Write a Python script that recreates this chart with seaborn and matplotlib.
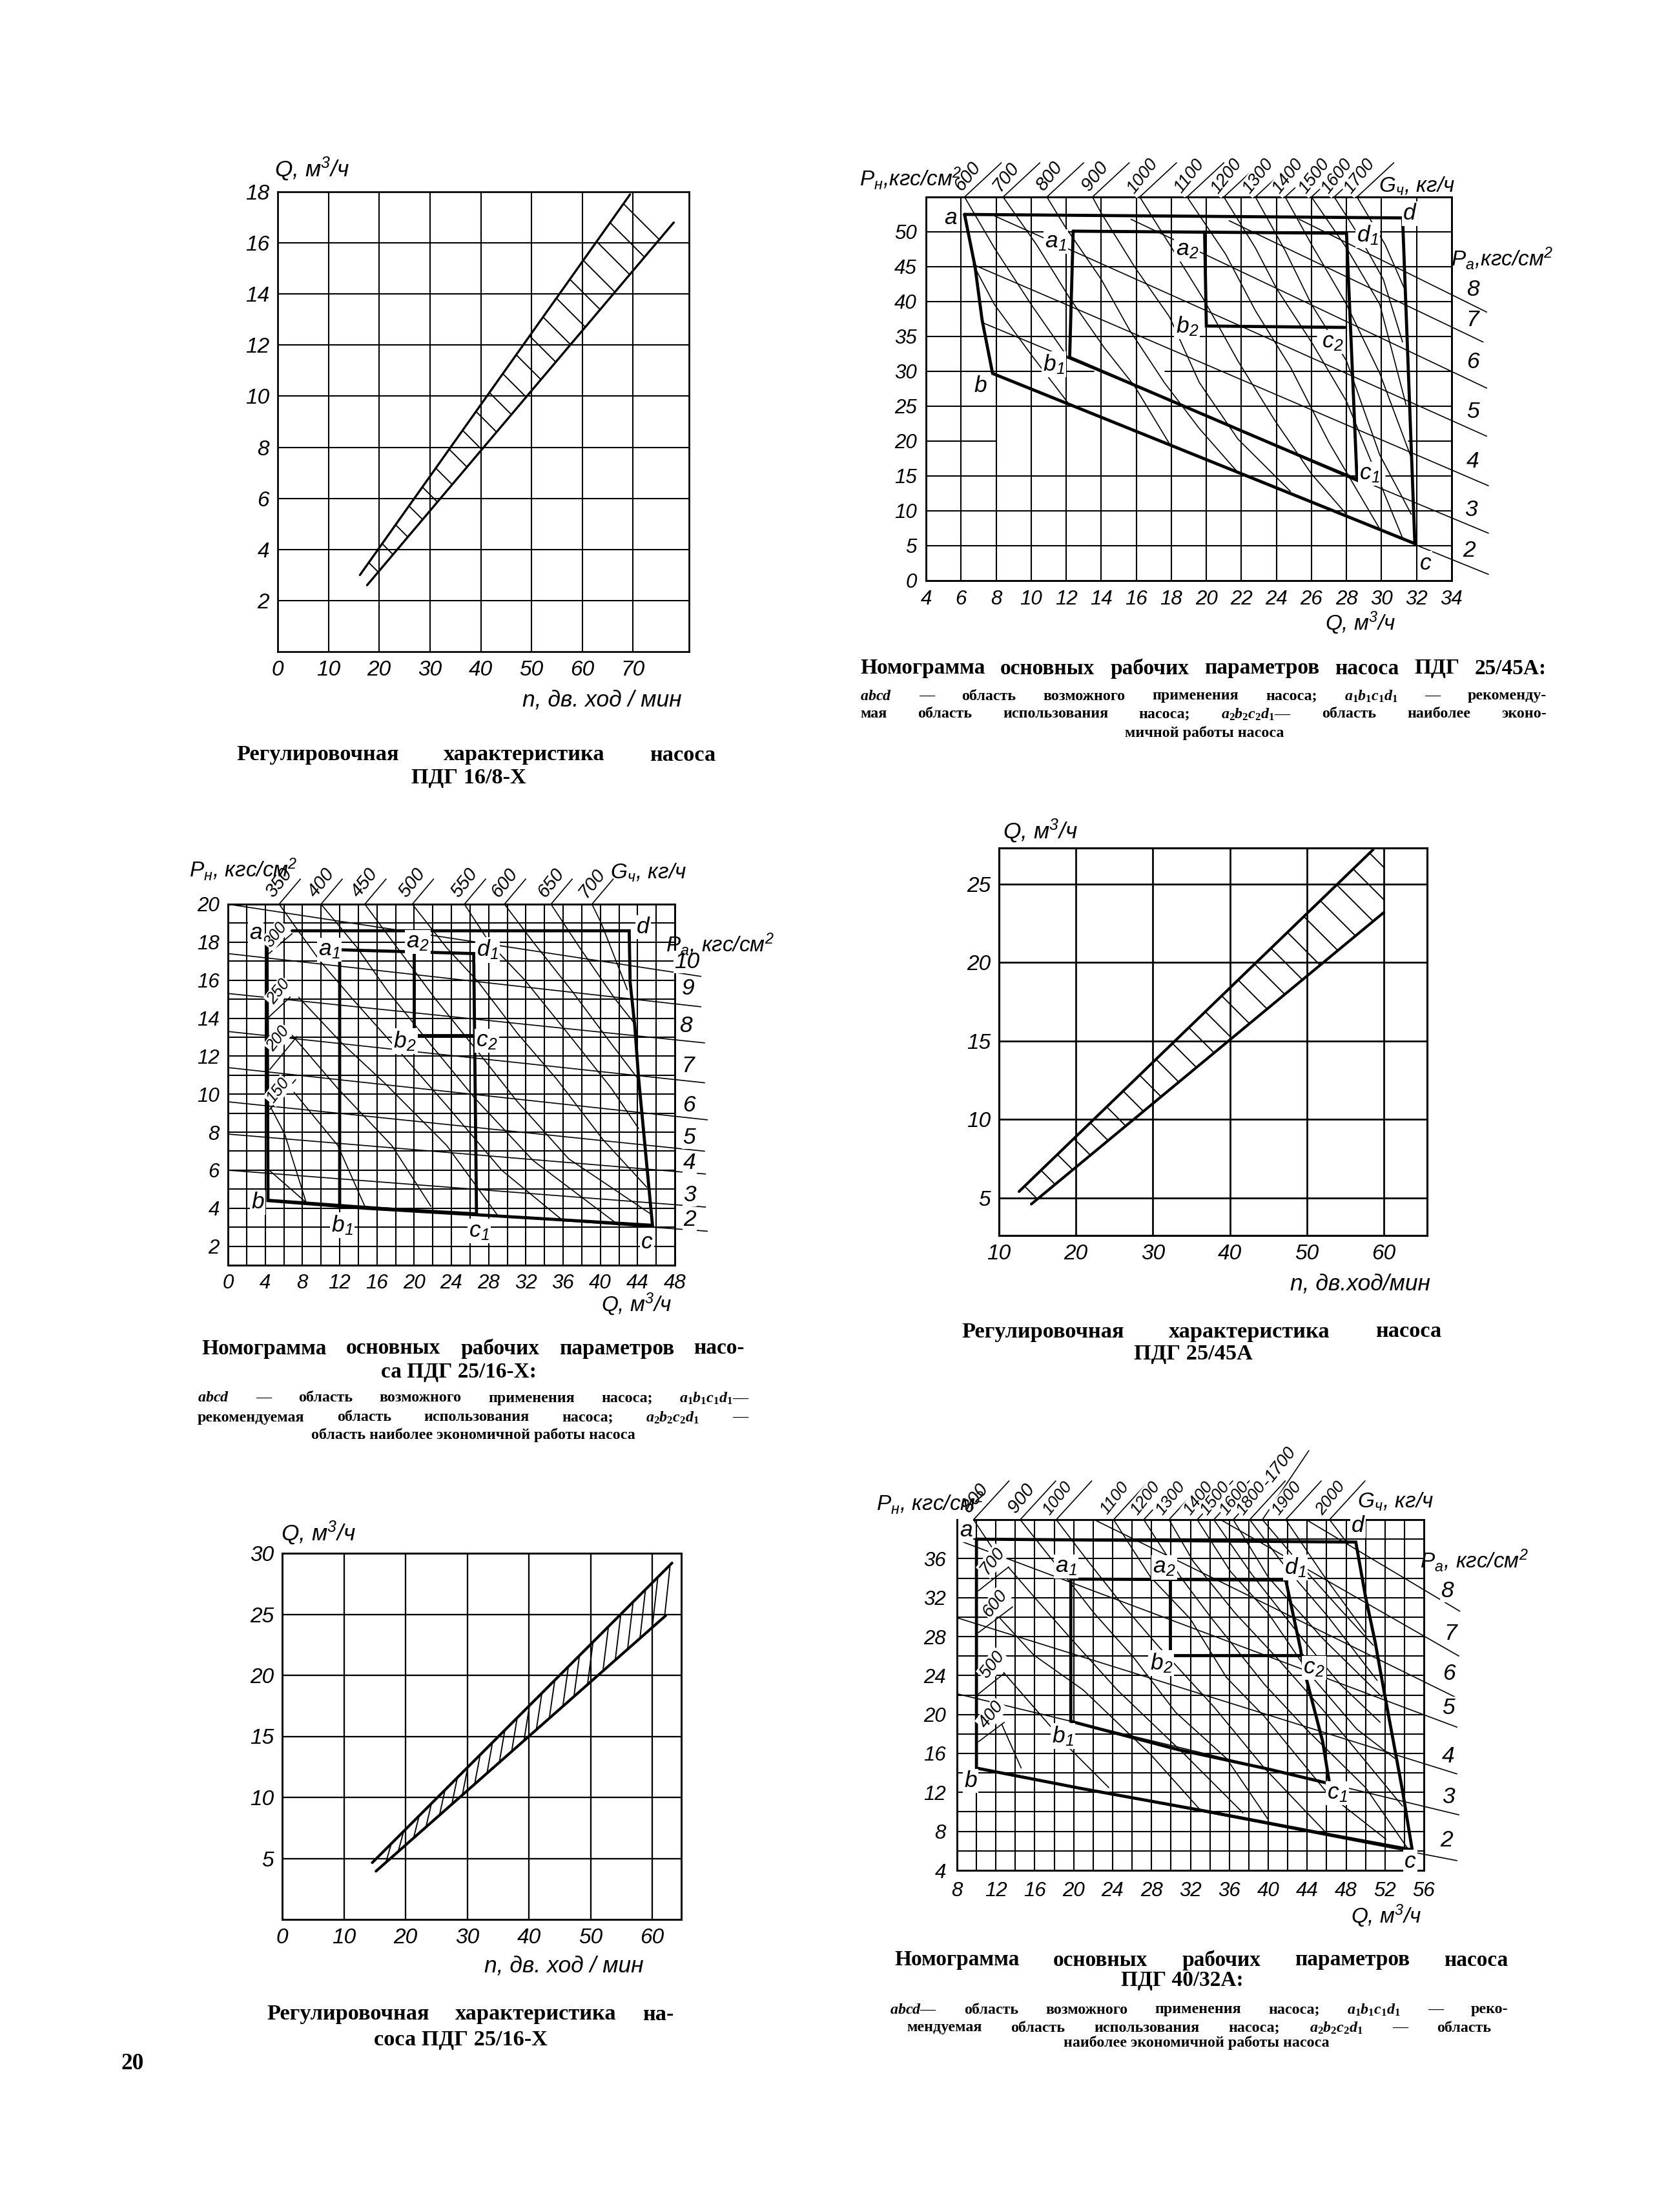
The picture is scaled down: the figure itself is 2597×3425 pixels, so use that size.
#!/usr/bin/env python
import numpy as np
import matplotlib
matplotlib.use('Agg')
import matplotlib.pyplot as plt
import seaborn as sns

sns.set_style('white', {'axes.edgecolor': 'black', 'text.color': 'black',
                        'xtick.color': 'black', 'ytick.color': 'black'})
plt.rcParams.update({'font.family': ['Liberation Sans Narrow', 'Liberation Sans', 'DejaVu Sans'],
                     'mathtext.fontset': 'custom',
                     'mathtext.it': 'Liberation Serif:italic:bold',
                     'mathtext.rm': 'Liberation Serif:bold',
                     'mathtext.default': 'regular',
                     'hatch.linewidth': 0.9})

W, H, DPI = 2597, 3425, 150
NARROW = ['Liberation Sans Narrow', 'Liberation Sans', 'DejaVu Sans']
SERIF = ['Liberation Serif', 'DejaVu Serif']

## ---- regulating curves: band edges as (n, Q)
tl_upper = [(16.2, 3.0), (69.4, 17.9)]
tl_lower = [(17.6, 2.6), (78.0, 16.8)]
mr_upper = [(12.6, 5.4), (58.6, 27.2)]
mr_lower = [(14.2, 4.6), (60.0, 23.2)]
bl_upper = [(14.6, 4.65), (63.2, 29.2)]
bl_lower = [(15.2, 3.95), (62.2, 24.9)]
bl_hatch_n = [16.8, 18.8, 21.3, 23.3, 25.5, 27.5, 29.2, 31.2, 33.2, 35.2, 37.2, 39.2,
              41.2, 43.3, 45.5, 47.3, 49.5, 52.0, 54.0, 56.0, 58.0, 60.0, 62.0]

## ---- nomogram PDG 25/45A
tr_pa = {8: [(25.3, 51.8), (36.0, 38.5)], 7: [(21.3, 51.6), (35.8, 34.2)],
         6: [(15.7, 51.8), (36.0, 27.6)], 5: [(7.9, 52.3), (36.0, 20.7)],
         4: [(6.7, 45.3), (36.1, 13.6)], 3: [(7.3, 36.9), (36.1, 6.8)],
         2: [(7.8, 29.7), (36.1, 0.9)]}
tr_pa_text = {8: (35.2, 41.7), 7: (35.2, 37.4), 6: (35.2, 31.3), 5: (35.2, 24.2),
              4: (35.2, 17.1), 3: (35.1, 10.1), 2: (35.0, 4.3)}
tr_g = [[(6.2, 55), (7.9, 47.7), (10, 39.6), (12.1, 32)],
        [(6.7, 45.3), (7.9, 39.6), (10, 32.4), (12.1, 25.5)],
        [(8.4, 55), (10.3, 48.2), (12.2, 40.5), (14.2, 33.3), (15.9, 27.9), (17.9, 19.6)],
        [(10.9, 55), (11.9, 50.9), (14, 43.2), (15.6, 36), (17.6, 28.4), (19.6, 21.8), (21.7, 15.8)],
        [(13.5, 55), (14, 52.7), (15.9, 45), (17.9, 37.8), (19.6, 28.4), (21.8, 20.3), (24.8, 12.8)],
        [(16.2, 55), (17.8, 48.6), (19.9, 40.1), (21.8, 31.5), (23.9, 23), (26, 15.3), (28, 9.5)],
        [(18.9, 55), (21.1, 46.8), (22.8, 38.7), (24.8, 30.6), (27, 19.8), (29.9, 7.4)],
        [(21, 55), (22.8, 47.7), (24, 41.9), (26, 34.2), (28, 25.7), (31.2, 6.1)],
        [(22.8, 55), (24.5, 47.3), (26, 39.6), (28, 31.5), (29.9, 18), (31.7, 9.5)],
        [(24.5, 55), (26, 48.2), (28, 39.6), (29.9, 29.7), (31.7, 17.6)],
        [(26, 55), (28, 47.7), (29.9, 39.6), (31.4, 25.2)],
        [(27.3, 55), (28.7, 49.5), (30.1, 43.2), (31.2, 34.2)],
        [(28.6, 55), (30.2, 48.2), (31.3, 41.9)]]
tr_g_top = [6.2, 8.4, 10.9, 13.5, 16.2, 18.9, 21, 22.8, 24.5, 26, 27.3, 28.6]
tr_g_names = ['600', '700', '800', '900', '1000', '1100', '1200', '1300', '1400', '1500', '1600', '1700']
tr_regions = [[(6.2, 52.5), (6.8, 45), (7.2, 37.4), (7.8, 29.7), (31.9, 5.3), (31.2, 52.0), (6.2, 52.5)],
              [(12.4, 50.1), (12.2, 32.0), (28.6, 14.4), (28.0, 49.8), (12.4, 50.1)],
              [(19.9, 50), (20.0, 36.5), (27.9, 36.3)]]
tr_points = {'a': (5.4, 52.0), 'b': (7.1, 27.9), 'c': (32.5, 2.5), 'd': (31.6, 52.6),
             'a$_1$': (11.4, 48.6), 'b$_1$': (11.3, 31.0), 'c$_1$': (29.3, 15.3), 'd$_1$': (29.2, 49.5),
             'a$_2$': (18.9, 47.5), 'b$_2$': (18.9, 36.5), 'c$_2$': (27.2, 34.2)}
tr_grid_gaps = {20: [(8, 31.5)], 30: [(13.6, 17.6)], 35: [(26.3, 28.2)], 15: [(28.7, 30.2)]}

## ---- nomogram PDG 25/16-X
ml_pa = {10: [(0, 20), (50.8, 16.2)], 9: [(0, 17.4), (50.8, 14.6)], 8: [(0, 15.3), (51.2, 12.7)],
         7: [(0, 13.3), (51.2, 10.6)], 6: [(0, 11.4), (51.5, 8.65)], 5: [(0, 9.6), (51.2, 7.0)],
         4: [(0, 7.9), (51.3, 5.8)], 3: [(0, 6.0), (51.3, 4.06)], 2: [(4.3, 4.47), (51.5, 2.79)]}
ml_pa_text = {10: (49.3, 16.95), 9: (49.4, 15.55), 8: (49.2, 13.6), 7: (49.4, 11.5), 6: (49.5, 9.4),
              5: (49.5, 7.7), 4: (49.6, 6.4), 3: (49.6, 4.7), 2: (49.6, 3.4)}
ml_g = [[(39.1, 20), (40.1, 19), (42.9, 15.5)],
        [(34.7, 20), (37.8, 17.7), (41.6, 15), (43.7, 13.7)],
        [(29.7, 20), (32.8, 18), (37, 15.4), (40.8, 12.9), (43.9, 10.9)],
        [(25.4, 20), (28.2, 17.9), (31.9, 16), (37, 12.9), (41.2, 10.3), (44.1, 8.2)],
        [(19.8, 20), (23.5, 17.7), (26.9, 15.9), (31.1, 13.2), (35.3, 10.8), (40.3, 7.6), (45, 5.1)],
        [(14.7, 20), (18.5, 17.5), (22.3, 15), (26.9, 12.2), (31.1, 9.6), (36.6, 6.6), (45.4, 3.7)],
        [(10, 20), (13.9, 17.7), (17.2, 15.4), (21.8, 12.6), (26.5, 9.8), (32.8, 6.5), (42, 3.1)],
        [(5.5, 20), (9.9, 17), (13.4, 15), (18.5, 12.2), (23.5, 9.4), (29.4, 6), (36.1, 3.3)],
        [(7.6, 15.1), (12.2, 12.7), (16.8, 10.6), (23.5, 7.3), (29, 3.6)],
        [(6.9, 13.1), (11.8, 10.3), (17.6, 7.3), (21.8, 4.1)],
        [(7.1, 10.1), (11.8, 7.3), (14.7, 4.1)],
        [(4.6, 9.3), (6.1, 7.9), (8.4, 4.3)],
        [(4.2, 6.1), (8.4, 4.3)]]
ml_g_top = [5.5, 10, 14.7, 19.8, 25.4, 29.7, 34.7, 39.1]
ml_g_names = ['350', '400', '450', '500', '550', '600', '650', '700']
ml_g_left = {'300': (4.4, 17.4), '250': (4.4, 14.06), '200': (4.5, 11.3), '150': (4.5, 9.2)}
ml_regions = [[(6.9, 18.6), (43.1, 18.6), (43.2, 15.9), (43.7, 13.6), (44.1, 10.9), (45.6, 3.1),
               (28.6, 3.6), (14.7, 4.0), (4.3, 4.4), (4.2, 18.2)],
              [(12, 17.6), (12, 4.1), (26.7, 3.7), (26.4, 17.4), (12, 17.6)],
              [(20, 17.4), (20, 13.1), (26.5, 13.1)]]
ml_points = {'a': (3, 18.5), 'b': (3.2, 4.3), 'c': (45, 2.2), 'd': (44.6, 18.8),
             'a$_1$': (10.9, 17.6), 'b$_1$': (12.3, 3.1), 'c$_1$': (27, 2.8), 'd$_1$': (27.9, 17.6),
             'a$_2$': (20.4, 18), 'b$_2$': (19, 12.8), 'c$_2$': (27.8, 12.8)}

## ---- nomogram PDG 40/32A
br_pa = {8: [(43.9, 40), (59.7, 30.6)], 7: [(35.1, 40), (59.6, 26)], 6: [(22.1, 40), (59.2, 21.8)],
         5: [(8.1, 37.9), (59.4, 18.7)], 4: [(8.1, 29.9), (59.4, 13.9)], 3: [(8.1, 22.1), (59.6, 9.7)],
         2: [(10, 14.5), (59.4, 5)]}
br_pa_text = {8: (58.4, 32.7), 7: (58.7, 28.3), 6: (58.6, 24.2), 5: (58.5, 20.7),
              4: (58.5, 15.7), 3: (58.5, 11.5), 2: (58.3, 7.1)}
br_g = [[(9.7, 40), (11.7, 37)],
        [(13.3, 35.1), (15.9, 32.1), (19.7, 27.8), (24.5, 22.5), (31.4, 15.9), (37.4, 9.9)],
        [(12.4, 29.9), (15.9, 26.1), (21, 22.5), (27.9, 15.9), (33.1, 10.1)],
        [(12.8, 24.3), (17.6, 18.8), (19.7, 16.4), (23.6, 12.5)],
        [(12.6, 19), (14.6, 14.5)],
        [(14.5, 40), (18.4, 35.1), (22.1, 30.4), (26.2, 25.8), (30.5, 20.2), (35.7, 15.5), (40, 9.2)],
        [(18.2, 40), (21.5, 35.7), (24.9, 31.4), (28.8, 26.9), (34.4, 20.8), (39.6, 14.5), (46.1, 7.7)],
        [(24.1, 40), (27.9, 34.1), (32, 29.8), (35.7, 23.8), (39.6, 19.8), (46.1, 11.9), (52.1, 7.2)],
        [(27.2, 40), (31, 34.1), (34, 30.1), (39.6, 23.1), (43.9, 18.5), (50, 12.5), (54.3, 6.3)],
        [(29.8, 40), (32.3, 35.7), (36.6, 30.4), (40.9, 25.8), (45.6, 20.5), (50, 15.2), (53.8, 10.6)],
        [(32.7, 40), (36.1, 34.7), (40, 30.4), (44.3, 24.1), (49.1, 18.5), (53, 15.5)],
        [(34.4, 40), (38.3, 34.4), (43.5, 27.8), (47.4, 23.1), (51.5, 19.2)],
        [(36.4, 40), (40, 34.1), (45.6, 27.8), (51.7, 21.8)],
        [(38.1, 40), (41.8, 35.1), (46.1, 30.1), (51.2, 23.5)],
        [(39.4, 40), (43.9, 34.7), (47.4, 30.8), (50.8, 27.1)],
        [(41.8, 40), (45.6, 34.4), (50, 28.4)],
        [(46.3, 40), (48.2, 37.5)]]
br_g_top = [9.7, 14.5, 18.2, 24.1, 27.2, 29.8, 32.7, 34.4, 36.4, 38.1, 39.4, 41.8, 46.3]
br_g_names = ['800', '900', '1000', '1100', '1200', '1300', '1400', '1500', '1600', '1800', '1700', '1900', '2000']
br_g_left = {'700': (10.2, 32.7), '600': (10.2, 28.4), '500': (10.2, 22.1), '400': (10.2, 17.2)}
br_regions = [[(10, 38), (49, 37.7), (50, 32.1), (51, 27.4), (51.7, 23.5), (53.8, 12.2), (54.8, 6.1),
               (46.1, 7.7), (34, 10), (20.8, 12.4), (10, 14.5), (10, 38)],
              [(19.7, 33.9), (19.7, 19.3), (30.7, 16.4), (40, 14.4), (46.3, 12.9), (45.6, 17.2),
               (43.7, 24.5), (43.3, 26.8), (41.8, 33.8), (19.7, 33.9)],
              [(29.9, 33.9), (29.9, 26.1), (43.5, 26.1)]]
br_points = {'a': (8.9, 38.9), 'b': (9.4, 13.2), 'c': (54.6, 4.9), 'd': (49.2, 39.4),
             'a$_1$': (19.2, 35.2), 'b$_1$': (18.9, 17.8), 'c$_1$': (47.1, 11.9), 'd$_1$': (42.8, 35.1),
             'a$_2$': (29.3, 35.1), 'b$_2$': (29, 25.3), 'c$_2$': (44.7, 24.8)}

fig = plt.figure(figsize=(W / DPI, H / DPI), dpi=DPI, facecolor='white')

def pt(px):
    return px * 72.0 / DPI

def new_axes(left, top, right, bottom):
    return fig.add_axes([left / W, 1 - bottom / H, (right - left) / W, (bottom - top) / H])

def ftext(px, py, s, **kw):
    kw.setdefault('ha', 'center')
    kw.setdefault('va', 'center')
    return fig.text(px / W, 1 - py / H, s, **kw)

def label(px, py, s, size=16, **kw):
    return ftext(px, py, s, family=NARROW, style='italic', size=size, **kw)

def draw(ax, pts, lw=0.8, **kw):
    x, y = zip(*pts)
    sns.lineplot(x=list(x), y=list(y), ax=ax, color='black', lw=lw, sort=False,
                 estimator=None, errorbar=None, legend=False, **kw)

def frame(ax, xlim, ylim, xticks, yticks, xgrid, ygrid, grid_lw=1.0, spine_lw=1.4, gaps=None, pad=13, size=16):
    ax.hlines(ygrid, xlim[0], xlim[1], color='black', lw=grid_lw, zorder=1)
    for y, spans in (gaps or {}).items():
        for x0, x1 in spans:
            ax.hlines(y, x0, x1, color='white', lw=grid_lw + 1.5, zorder=1.5)
    ax.vlines(xgrid, ylim[0], ylim[1], color='black', lw=grid_lw, zorder=1.7)
    ax.set_xlim(*xlim)
    ax.set_ylim(*ylim)
    ax.set_xticks(xticks)
    ax.set_yticks(yticks)
    ax.tick_params(length=0, pad=pt(pad))
    for t in ax.get_xticklabels() + ax.get_yticklabels():
        t.set(family=NARROW, style='italic', size=size)
    for s in ax.spines.values():
        s.set_linewidth(spine_lw)

def leader(ax, x, y, name, dx, dy, lx, ly, size=15, rot=52):
    ax.annotate('', xy=(x, y), xytext=(pt(dx), pt(dy)), textcoords='offset points', annotation_clip=False,
                arrowprops=dict(arrowstyle='-', lw=0.8, color='black', shrinkA=0, shrinkB=0))
    ax.annotate(name, xy=(x, y), xytext=(pt(lx), pt(ly)), textcoords='offset points', annotation_clip=False,
                ha='center', va='center', rotation=rot, family=NARROW, style='italic', size=size, zorder=6,
                bbox=dict(fc='white', ec='none', pad=0.6))

def nomogram(ax, pa, pa_text, g, regions, points):
    for pts in pa.values():
        draw(ax, pts, clip_on=False)
    for pts in g:
        draw(ax, pts)
    for pts in regions:
        draw(ax, pts, lw=2.3, clip_on=False, solid_joinstyle='miter')
    for name, xy in points.items():
        ax.text(xy[0], xy[1], name, ha='center', va='center', family=NARROW, style='italic', size=17,
                zorder=6, bbox=dict(fc='white', ec='none', pad=1))
    for name, xy in pa_text.items():
        ax.text(xy[0], xy[1], str(name), ha='center', va='center', family=NARROW, style='italic', size=17,
                clip_on=False, zorder=6, bbox=dict(fc='white', ec='none', pad=0.5))

def justify(line, x0, x1, py, size):
    ## spread the words of a caption line between two page positions
    words = [ftext(x0, py, w, ha='left', family=SERIF, weight='bold', size=size) for w in line.split(' ')]
    r = fig.canvas.get_renderer()
    widths = [t.get_window_extent(r).width for t in words]
    gap = (x1 - x0 - sum(widths)) / max(len(words) - 1, 1)
    x = x0
    for t, w in zip(words, widths):
        t.set_x(x / W)
        x += w + gap

def centred(line, px, py, size):
    ftext(px, py, line, family=SERIF, weight='bold', size=size)

## ---------------- regulating curve PDG 16/8-X
ax = new_axes(430, 297, 1067, 1009)
frame(ax, (0, 81), (0, 18), np.arange(0, 80, 10), np.arange(2, 20, 2), np.arange(10, 80, 10), np.arange(2, 18, 2), spine_lw=1.3)
ax.set_yticks(np.arange(2, 20, 2))
band = tl_upper + tl_lower[::-1]
ax.fill(*zip(*band), facecolor='none', edgecolor='black', hatch='\\', linewidth=0, zorder=2)
draw(ax, tl_upper, lw=1.6)
draw(ax, tl_lower, lw=1.6)
label(483, 262, 'Q, м$^3$/ч', size=17)
label(932, 1084, 'n, дв. ход / мин', size=17)
justify('Регулировочная характеристика насоса', 366, 1108, 1169, 16.5)
centred('ПДГ 16/8-Х', 726, 1204, 16.5)

## ---------------- regulating curve PDG 25/45A
ax = new_axes(1547, 1313, 2210, 1913)
frame(ax, (10, 65.6), (2.6, 27.3), np.arange(10, 70, 10), np.arange(5, 30, 5), np.arange(20, 70, 10), np.arange(5, 30, 5), grid_lw=1.3, spine_lw=1.5)
band = mr_upper + [(60, 27.3)] + mr_lower[::-1]
ax.fill(*zip(*band), facecolor='none', edgecolor='black', hatch='\\', linewidth=0, zorder=2)
draw(ax, mr_upper, lw=2.0)
draw(ax, mr_lower, lw=2.0)
label(1611, 1287, 'Q, м$^3$/ч', size=17)
label(2107, 1988, 'n, дв.ход/мин', size=17)
justify('Регулировочная характеристика насоса', 1489, 2232, 2062, 16.5)
centred('ПДГ 25/45А', 1848, 2097, 16.5)

## ---------------- regulating curve PDG 25/16-X
ax = new_axes(437, 2405, 1055, 2972)
frame(ax, (0, 64.7), (0, 30), np.arange(0, 70, 10), np.arange(5, 35, 5), np.arange(10, 70, 10), np.arange(5, 30, 5), grid_lw=1.1, spine_lw=1.4)
for n in bl_hatch_n:
    low = np.interp(n, *zip(*bl_lower))
    up = np.interp(n + 0.9, *zip(*bl_upper))
    draw(ax, [(n, low), (n + 0.9, up)], lw=0.9)
draw(ax, bl_upper, lw=2.0)
draw(ax, bl_lower, lw=2.0)
label(493, 2374, 'Q, м$^3$/ч', size=17)
label(873, 3044, 'n, дв. ход / мин', size=17)
justify('Регулировочная характеристика на-', 413, 1043, 3119, 16.5)
centred('соса ПДГ 25/16-Х', 713, 3158, 16.5)

## ---------------- nomogram PDG 25/45A
ax = new_axes(1434, 305, 2248, 899)
frame(ax, (4, 34), (0, 55), np.arange(4, 36, 2), np.arange(0, 55, 5), np.arange(6, 34, 2), np.arange(5, 55, 5), gaps=tr_grid_gaps, pad=14, size=15)
nomogram(ax, tr_pa, tr_pa_text, tr_g, tr_regions, tr_points)
for x, name in zip(tr_g_top, tr_g_names):
    leader(ax, x, 55, name, 57, 53, 4, 32, size=14 if len(name) == 3 else 13)
label(1410, 276, 'P$_н$,кгс/см$^2$', size=16)
label(2194, 288, 'G$_ч$, кг/ч', size=16)
label(2326, 400, 'P$_а$,кгс/см$^2$', size=16)
label(2107, 964, 'Q, м$^3$/ч', size=16)
centred('', 0, 0, 1)
justify('Номограмма основных рабочих параметров насоса ПДГ 25/45А:', 1332, 2395, 1035, 16)
justify(r'$\mathit{abcd}$ — область возможного применения насоса; $\mathit{a_1b_1c_1d_1}$ — рекоменду-', 1332, 2395, 1078, 11.5)
justify(r'мая область использования насоса; $\mathit{a_2b_2c_2d_1}$— область наиболее эконо-', 1332, 2395, 1106, 11.5)
centred('мичной работы насоса', 1865, 1135, 11.5)

## ---------------- nomogram PDG 25/16-X
ax = new_axes(353, 1400, 1045, 1959)
frame(ax, (0, 48), (1, 20), np.arange(0, 52, 4), np.arange(2, 22, 2), np.arange(2, 48, 2), np.arange(2, 20, 1), pad=13, size=15)
nomogram(ax, ml_pa, ml_pa_text, ml_g, ml_regions, ml_points)
for x, name in zip(ml_g_top, ml_g_names):
    leader(ax, x, 20, name, 33, 39, 0, 33, size=14)
for (name, xy), off in zip(ml_g_left.items(), [(36, 31, 10, 29), (33, 31, 15, 39), (42, 51, 13, 48), (40, 46, 13, 29)]):
    leader(ax, xy[0], xy[1], name, off[0], off[1], off[2], off[3], size=12)
label(377, 1346, 'P$_н$, кгс/см$^2$', size=16)
label(1004, 1351, 'G$_ч$, кг/ч', size=16)
label(1115, 1462, 'P$_а$, кгс/см$^2$', size=16)
label(986, 2019, 'Q, м$^3$/ч', size=16)
justify('Номограмма основных рабочих параметров насо-', 312, 1153, 2088, 16)
centred('са ПДГ 25/16-Х:', 710, 2125, 16)
justify(r'$\mathit{abcd}$ — область возможного применения насоса; $\mathit{a_1b_1c_1d_1}$—', 306, 1161, 2165, 11.5)
justify(r'рекомендуемая область использования насоса; $\mathit{a_2b_2c_2d_1}$ —', 306, 1158, 2195, 11.5)
centred('область наиболее экономичной работы насоса', 733, 2222, 11.5)

## ---------------- nomogram PDG 40/32A
ax = new_axes(1482, 2353, 2205, 2896)
frame(ax, (8, 56), (4, 40), np.arange(8, 60, 4), np.arange(4, 40, 4), np.arange(10, 56, 2), np.arange(6, 40, 2), pad=17, size=15)
nomogram(ax, br_pa, br_pa_text, br_g, br_regions, br_points)
for x, name in zip(br_g_top, br_g_names):
    if name == '1700':
        leader(ax, x, 40, name, 72, 107, 28, 85, size=13)
    else:
        leader(ax, x, 40, name, 55, 60, 2, 33, size=14 if len(name) == 3 else 12.5)
for (name, xy), off in zip(br_g_left.items(), [(47, 37, 22, 46), (53, 40, 26, 45), (40, 32, 22, 45), (40, 30, 20, 42)]):
    leader(ax, xy[0], xy[1], name, off[0], off[1], off[2], off[3], size=13)
label(1441, 2327, 'P$_н$, кгс/см$^2$', size=16)
label(2161, 2325, 'G$_ч$, кг/ч', size=16)
label(2283, 2416, 'P$_а$, кгс/см$^2$', size=16)
label(2147, 2966, 'Q, м$^3$/ч', size=16)
justify('Номограмма основных рабочих параметров насоса', 1385, 2335, 3035, 16)
centred('ПДГ 40/32А:', 1831, 3067, 16)
justify(r'$\mathit{abcd}$— область возможного применения насоса; $\mathit{a_1b_1c_1d_1}$ — реко-', 1378, 2335, 3112, 11.5)
justify(r'мендуемая область использования насоса; $\mathit{a_2b_2c_2d_1}$ — область', 1404, 2309, 3140, 11.5)
centred('наиболее экономичной работы насоса', 1853, 3163, 11.5)

ftext(205, 3196, '20', family=SERIF, weight='bold', size=17)

fig.savefig('out.png', dpi=DPI, facecolor='white')
